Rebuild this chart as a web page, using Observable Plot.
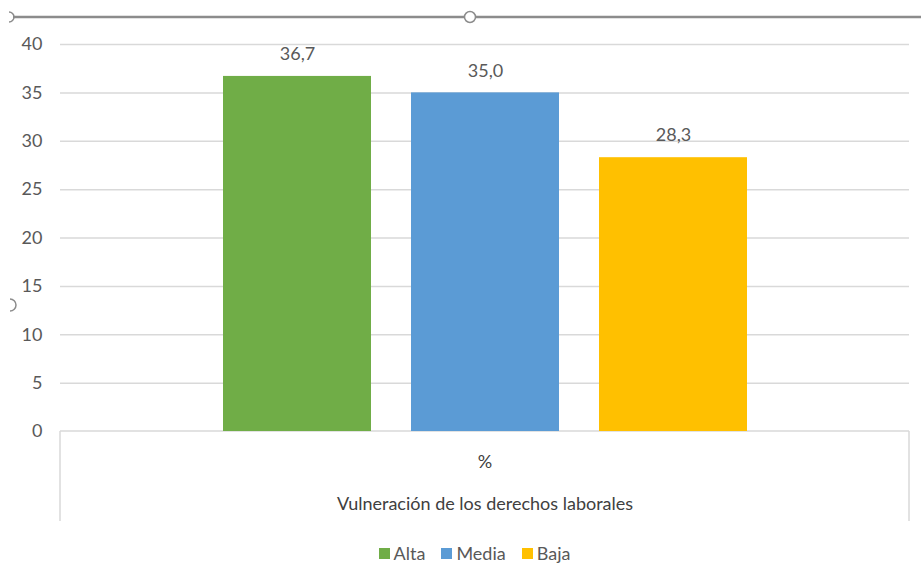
<!DOCTYPE html>
<html>
<head>
<meta charset="utf-8">
<script src="https://cdn.jsdelivr.net/npm/d3@7"></script>
<script src="https://cdn.jsdelivr.net/npm/@observablehq/plot@0.6"></script>
<style>
  html, body { margin: 0; padding: 0; background: #fff; }
  #chart { width: 921px; position: relative; font-family: Lato, "Open Sans", sans-serif; }
  .legend { display: flex; justify-content: center; align-items: center; height: 26px; gap: 16px;
            font-size: 18px; color: #595959; margin-left: 28px; }
  .legend span.sw { display: inline-block; width: 11px; height: 11px; margin-right: 4px; }
  .legend .item { display: flex; align-items: center; }
</style>
</head>
<body>
<div id="chart"></div>
<script>
// Vulneración de los derechos laborales, % por nivel
const niveles = ["Alta", "Media", "Baja"];
const porcentajes = [36.7, 35.0, 28.3];
const colores = ["#70ad47", "#5b9bd5", "#ffc000"];
const ticksY = [0, 5, 10, 15, 20, 25, 30, 35, 40];
const categoria = "%";
const grupo = "Vulneración de los derechos laborales";

const datos = niveles.map((n, i) => ({nivel: n, valor: porcentajes[i]}));
const fmt = v => v.toFixed(1).replace(".", ",");
const gris = "#595959";

// vertical edges of the category-axis box, below the zero line
function cajaCategorias(index, scales, values, dim) {
  const g = d3.create("svg:g");
  const y0 = scales.y(0);
  const xs = [dim.marginLeft, dim.width - dim.marginRight];
  for (const x of xs) {
    g.append("line").attr("x1", x).attr("x2", x).attr("y1", y0).attr("y2", y0 + 90)
      .attr("stroke", "#d9d9d9").attr("stroke-width", 1.5);
  }
  g.append("line").attr("x1", xs[0]).attr("x2", xs[1]).attr("y1", y0).attr("y2", y0)
    .attr("stroke", "#d9d9d9").attr("stroke-width", 1.5);
  return g.node();
}

const plot = Plot.plot({
  width: 921,
  height: 540,
  marginLeft: 60,
  marginRight: 12,
  marginTop: 44,
  marginBottom: 109,
  style: {fontFamily: "Lato, 'Open Sans', sans-serif", fontSize: "18px", color: gris, background: "#fff"},
  x: {domain: niveles, paddingInner: 0.213, paddingOuter: 0.864, axis: null},
  y: {domain: [0, 40], axis: null},
  color: {domain: niveles, range: colores},
  marks: [
    Plot.gridY(ticksY.filter(d => d > 0), {stroke: "#d9d9d9", strokeOpacity: 1, strokeWidth: 1.5}),
    Plot.axisY({ticks: ticksY, tickSize: 0, tickPadding: 18, label: null, fill: gris, fontSize: 18}),
    cajaCategorias,
    Plot.barY(datos, {x: "nivel", y: "valor", fill: "nivel"}),
    Plot.text(datos, {x: "nivel", y: "valor", text: d => fmt(d.valor), dy: -22, fill: gris, fontSize: 18}),
    Plot.text([categoria], {frameAnchor: "bottom", dy: 36, fill: "#404040", fontSize: 18}),
    Plot.text([grupo], {frameAnchor: "bottom", dy: 78, fill: "#404040", fontSize: 18})
  ]
});

// selection frame of the chart object
const svg = d3.select(plot);
svg.append("line").attr("x1", 13).attr("x2", 921).attr("y1", 17).attr("y2", 17)
  .attr("stroke", "#8c8c8c").attr("stroke-width", 2.5);
svg.append("circle").attr("cx", 470).attr("cy", 17).attr("r", 5.5)
  .attr("fill", "#fff").attr("stroke", "#8c8c8c").attr("stroke-width", 1.5);
svg.append("path").attr("d", "M 9 12 A 5 5 0 0 1 9 22").attr("fill", "none")
  .attr("stroke", "#8c8c8c").attr("stroke-width", 1.5);
svg.append("path").attr("d", "M 10 299 A 6 6 0 0 1 10 311").attr("fill", "none")
  .attr("stroke", "#8c8c8c").attr("stroke-width", 1.5);

const cont = document.getElementById("chart");
cont.appendChild(plot);

const leyenda = document.createElement("div");
leyenda.className = "legend";
niveles.forEach((n, i) => {
  const it = document.createElement("div");
  it.className = "item";
  it.innerHTML = `<span class="sw" style="background:${colores[i]}"></span>${n}`;
  leyenda.appendChild(it);
});
cont.appendChild(leyenda);
</script>
</body>
</html>
